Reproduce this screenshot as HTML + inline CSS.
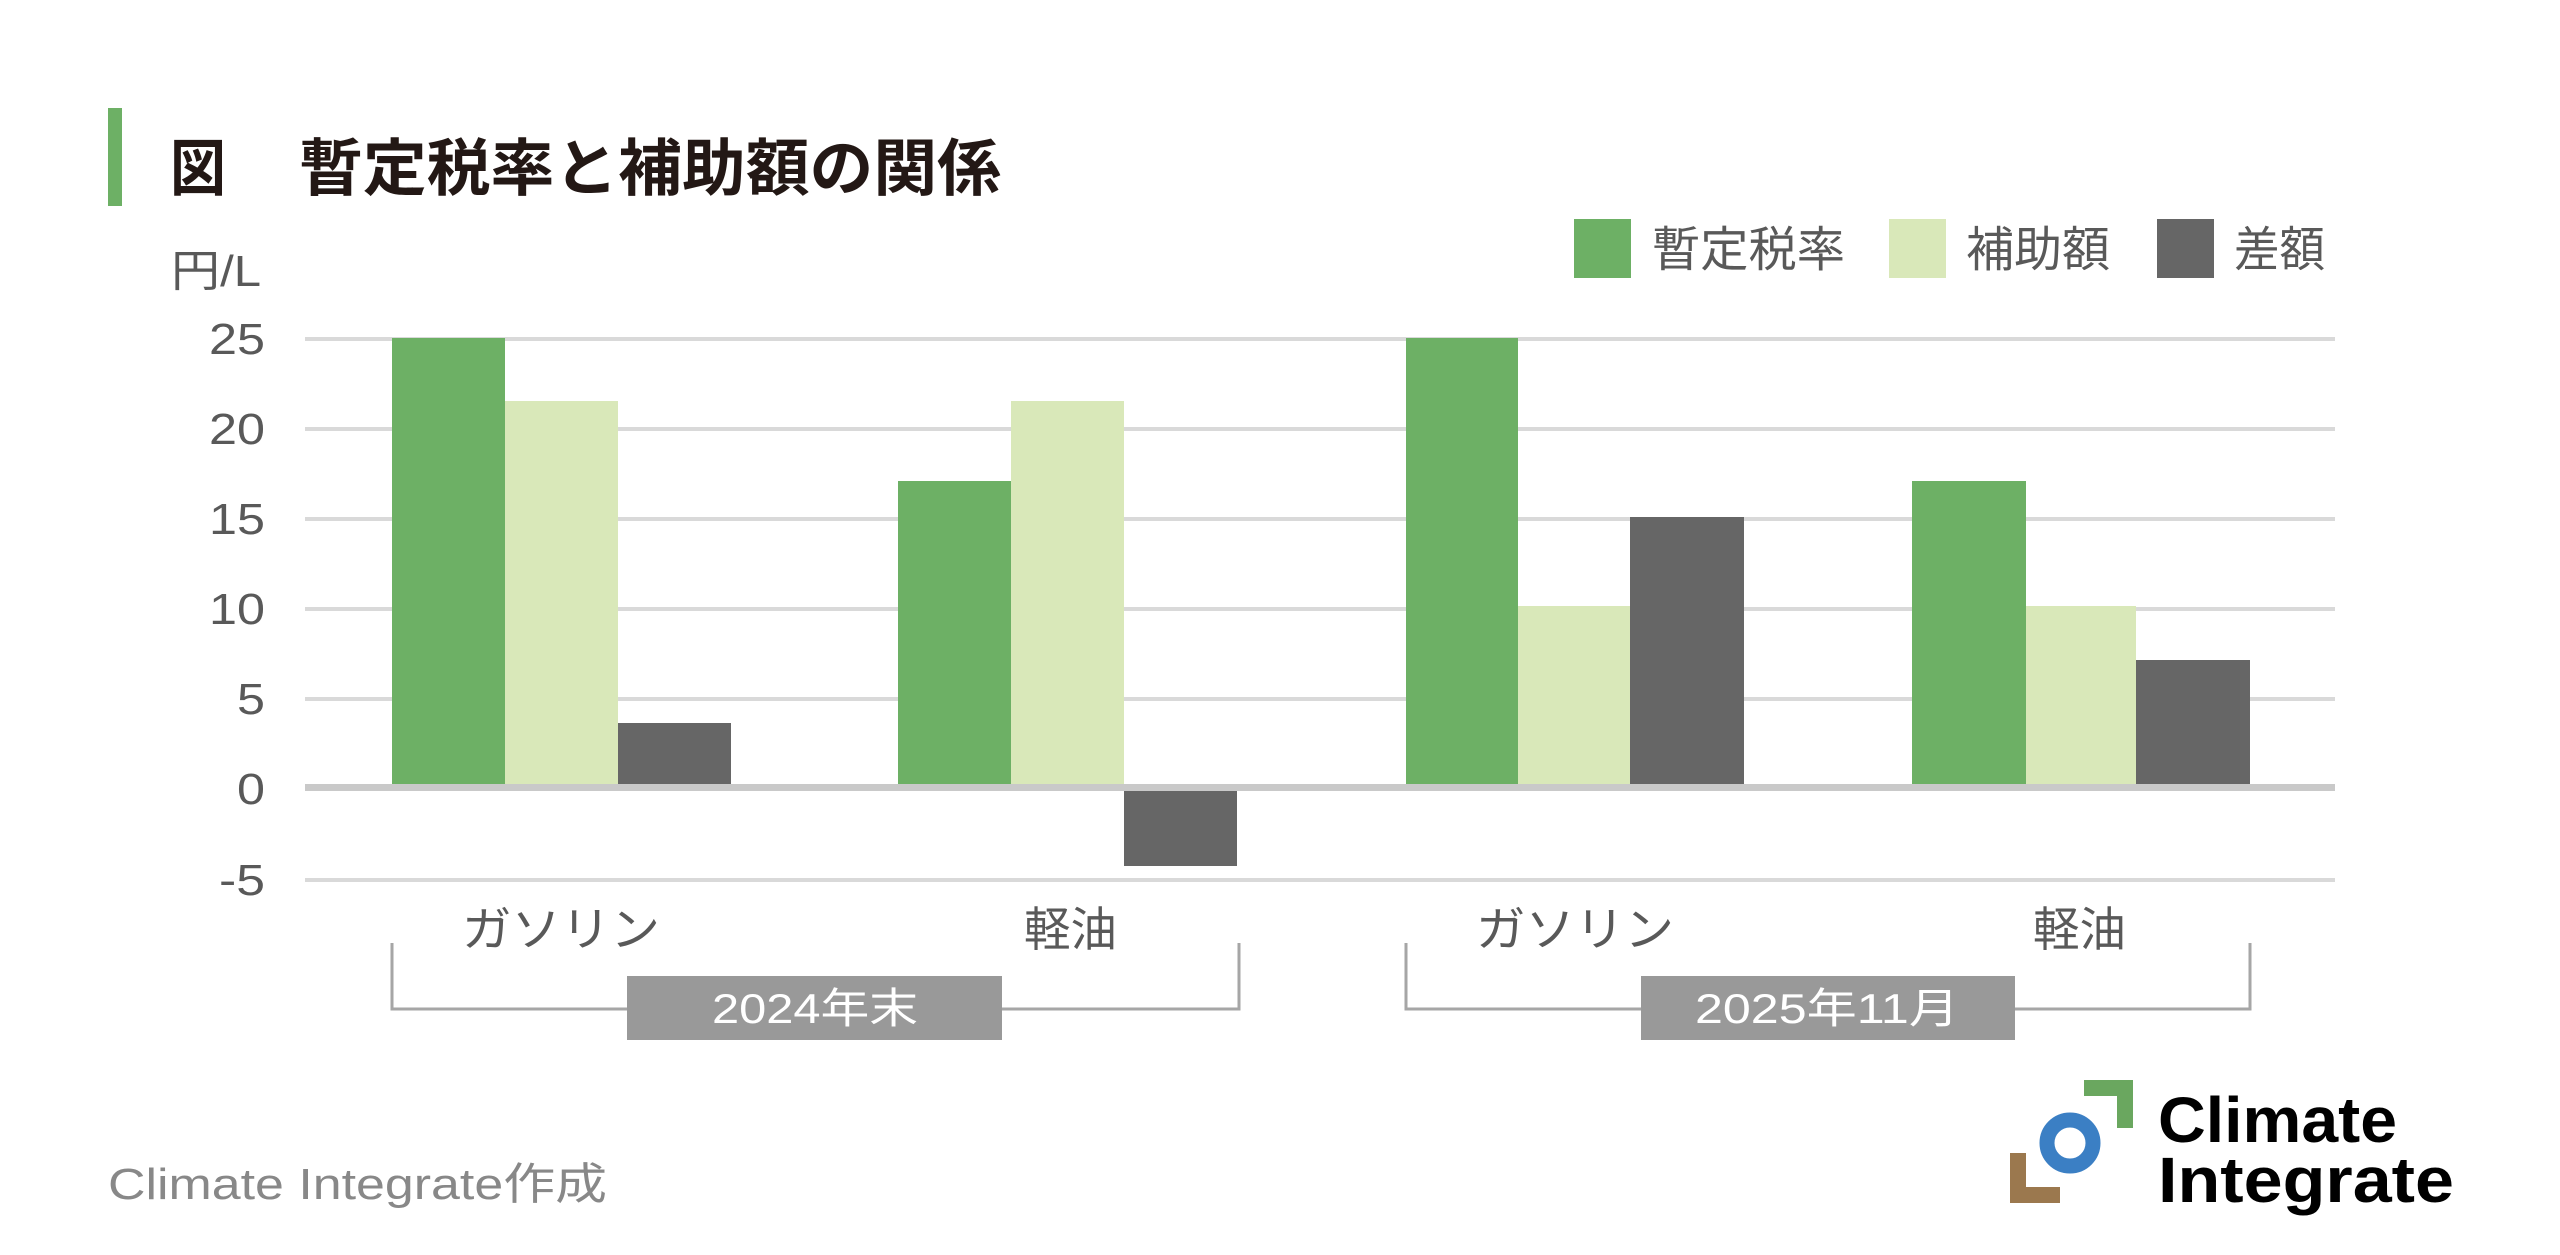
<!DOCTYPE html>
<html><head><meta charset="utf-8"><style>
html,body{margin:0;padding:0;background:#fff;}
svg{display:block;}
text{font-family:"Liberation Sans","Noto Sans CJK JP",sans-serif;}
</style></head><body>
<svg width="2560" height="1255" viewBox="0 0 2560 1255" xmlns="http://www.w3.org/2000/svg">
<rect width="2560" height="1255" fill="#fff"/>
<rect x="108" y="108" width="14" height="98" fill="#6db065"/>
<text x="170" y="190" font-size="62" font-weight="bold" fill="#231815" textLength="56" lengthAdjust="spacingAndGlyphs">図</text>
<text x="299" y="190" font-size="62" font-weight="bold" fill="#231815" textLength="702" lengthAdjust="spacingAndGlyphs">暫定税率と補助額の関係</text>
<!-- legend -->
<rect x="1574" y="219" width="57" height="59" fill="#6db065"/>
<text x="1652" y="266" font-size="48" fill="#595959" textLength="193" lengthAdjust="spacingAndGlyphs">暫定税率</text>
<rect x="1889" y="219" width="57" height="59" fill="#d9e8b9"/>
<text x="1966" y="266" font-size="48" fill="#595959" textLength="144" lengthAdjust="spacingAndGlyphs">補助額</text>
<rect x="2157" y="219" width="57" height="59" fill="#666"/>
<text x="2234" y="266" font-size="48" fill="#595959" textLength="91" lengthAdjust="spacingAndGlyphs">差額</text>
<!-- axis unit -->
<text x="171" y="286" font-size="44" fill="#595959" textLength="90" lengthAdjust="spacingAndGlyphs">円/L</text>
<!-- gridlines -->
<g fill="#d9d9d9">
<rect x="305" y="337" width="2030" height="4"/>
<rect x="305" y="427" width="2030" height="4"/>
<rect x="305" y="517" width="2030" height="4"/>
<rect x="305" y="607" width="2030" height="4"/>
<rect x="305" y="697" width="2030" height="4"/>
<rect x="305" y="878" width="2030" height="4"/>
</g>
<g font-size="44" fill="#595959" lengthAdjust="spacingAndGlyphs">
<text x="209" y="354" textLength="56" lengthAdjust="spacingAndGlyphs">25</text>
<text x="209" y="444" textLength="56" lengthAdjust="spacingAndGlyphs">20</text>
<text x="209" y="534" textLength="56" lengthAdjust="spacingAndGlyphs">15</text>
<text x="209" y="624" textLength="56" lengthAdjust="spacingAndGlyphs">10</text>
<text x="237" y="714" textLength="28" lengthAdjust="spacingAndGlyphs">5</text>
<text x="237" y="804" textLength="28" lengthAdjust="spacingAndGlyphs">0</text>
<text x="219" y="895" textLength="46" lengthAdjust="spacingAndGlyphs">-5</text>
</g>
<!-- bars -->
<g>
<rect x="392" y="338" width="113" height="447" fill="#6db065"/>
<rect x="505" y="401" width="113" height="384" fill="#d9e8b9"/>
<rect x="618" y="723" width="113" height="62" fill="#666"/>

<rect x="898" y="481" width="113" height="304" fill="#6db065"/>
<rect x="1011" y="401" width="113" height="384" fill="#d9e8b9"/>
<rect x="1124" y="791" width="113" height="75" fill="#666"/>

<rect x="1406" y="338" width="112" height="447" fill="#6db065"/>
<rect x="1518" y="606" width="112" height="179" fill="#d9e8b9"/>
<rect x="1630" y="517" width="114" height="268" fill="#666"/>

<rect x="1912" y="481" width="114" height="304" fill="#6db065"/>
<rect x="2026" y="606" width="110" height="179" fill="#d9e8b9"/>
<rect x="2136" y="660" width="114" height="125" fill="#666"/>
</g>
<rect x="305" y="784" width="2030" height="7" fill="#c9c9c9"/>
<!-- category labels -->
<g font-size="47" fill="#595959">
<text x="462" y="946" textLength="198" lengthAdjust="spacingAndGlyphs">ガソリン</text>
<text x="1024" y="946" textLength="93" lengthAdjust="spacingAndGlyphs">軽油</text>
<text x="1476" y="946" textLength="198" lengthAdjust="spacingAndGlyphs">ガソリン</text>
<text x="2033" y="946" textLength="93" lengthAdjust="spacingAndGlyphs">軽油</text>
</g>
<!-- brackets -->
<g fill="none" stroke="#a6a6a6" stroke-width="3">
<polyline points="392,943 392,1009 1239,1009 1239,943"/>
<polyline points="1406,943 1406,1009 2250,1009 2250,943"/>
</g>
<rect x="627" y="976" width="375" height="64" fill="#999"/>
<text x="712" y="1023" font-size="42" fill="#fff" textLength="206" lengthAdjust="spacingAndGlyphs">2024年末</text>
<rect x="1641" y="976" width="374" height="64" fill="#999"/>
<text x="1695" y="1023" font-size="42" fill="#fff" textLength="264" lengthAdjust="spacingAndGlyphs">2025年11月</text>
<!-- footer -->
<text x="108" y="1199" font-size="44" fill="#888" textLength="499" lengthAdjust="spacingAndGlyphs">Climate Integrate作成</text>
<!-- logo -->
<polygon points="2084,1080 2133,1080 2133,1128 2117,1128 2117,1096 2084,1096" fill="#6aa75f"/>
<circle cx="2070" cy="1143" r="23" fill="none" stroke="#3b7fc4" stroke-width="15"/>
<polygon points="2010,1153 2026,1153 2026,1187 2060,1187 2060,1203 2010,1203" fill="#9b784e"/>
<text x="2158" y="1142" font-size="64" font-weight="bold" fill="#000" textLength="239" lengthAdjust="spacingAndGlyphs">Climate</text>
<text x="2158" y="1202" font-size="64" font-weight="bold" fill="#000" textLength="296" lengthAdjust="spacingAndGlyphs">Integrate</text>
</svg>
</body></html>
